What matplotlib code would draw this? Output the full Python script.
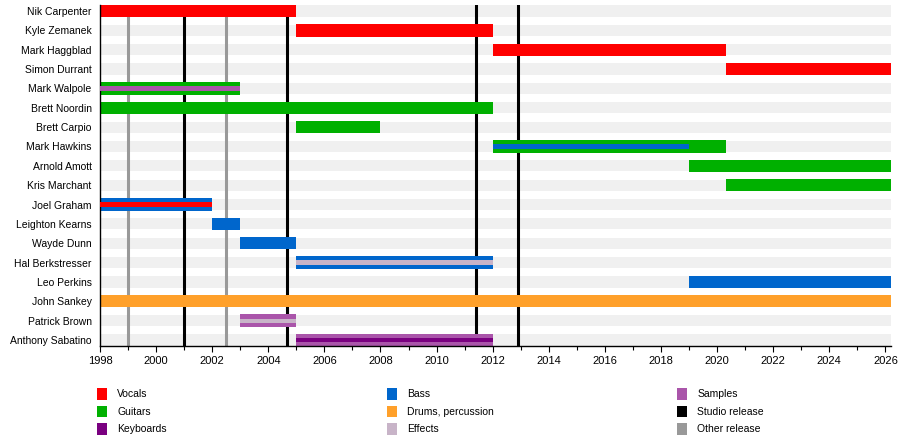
import matplotlib
matplotlib.use("Agg")
import matplotlib.pyplot as plt
from matplotlib.patches import Patch

plt.rcParams['font.family'] = ['Liberation Sans', 'DejaVu Sans']

END = 2026.2

members = ["Nik Carpenter", "Kyle Zemanek", "Mark Haggblad", "Simon Durrant",
           "Mark Walpole", "Brett Noordin", "Brett Carpio", "Mark Hawkins",
           "Arnold Amott", "Kris Marchant", "Joel Graham", "Leighton Kearns",
           "Wayde Dunn", "Hal Berkstresser", "Leo Perkins", "John Sankey",
           "Patrick Brown", "Anthony Sabatino"]

colors = {
    "Vocals": "#ff0000",
    "Guitars": "#00b000",
    "Keyboards": "#7a0080",
    "Bass": "#0066cc",
    "Drums, percussion": "#ffa02a",
    "Effects": "#c8b4c8",
    "Samples": "#aa55aa",
    "Studio release": "#000000",
    "Other release": "#999999",
}

# main bars: member, role, start, end
bars = [
    ("Nik Carpenter", "Vocals", 1998, 2005),
    ("Kyle Zemanek", "Vocals", 2005, 2012),
    ("Mark Haggblad", "Vocals", 2012, 2020.3),
    ("Simon Durrant", "Vocals", 2020.3, END),
    ("Mark Walpole", "Guitars", 1998, 2003),
    ("Brett Noordin", "Guitars", 1998, 2012),
    ("Brett Carpio", "Guitars", 2005, 2008),
    ("Mark Hawkins", "Guitars", 2012, 2020.3),
    ("Arnold Amott", "Guitars", 2019, END),
    ("Kris Marchant", "Guitars", 2020.3, END),
    ("Joel Graham", "Bass", 1998, 2002),
    ("Leighton Kearns", "Bass", 2002, 2003),
    ("Wayde Dunn", "Bass", 2003, 2005),
    ("Hal Berkstresser", "Bass", 2005, 2012),
    ("Leo Perkins", "Bass", 2019, END),
    ("John Sankey", "Drums, percussion", 1998, END),
    ("Patrick Brown", "Samples", 2003, 2005),
    ("Anthony Sabatino", "Samples", 2005, 2012),
]

# secondary roles drawn as thin inner stripes
stripes = [
    ("Mark Walpole", "Samples", 1998, 2003),
    ("Mark Hawkins", "Bass", 2012, 2019),
    ("Joel Graham", "Vocals", 1998, 2002),
    ("Hal Berkstresser", "Effects", 2005, 2012),
    ("Patrick Brown", "Effects", 2003, 2005),
    ("Anthony Sabatino", "Keyboards", 2005, 2012),
]

studio_releases = [2001.0, 2004.65, 2011.4, 2012.9]
other_releases = [1999.0, 2002.5]

fig = plt.figure(figsize=(9, 4.4), dpi=100)
ax = fig.add_axes([100 / 900, 1 - 346 / 440, 791 / 900, 341 / 440])

ypos = {m: i for i, m in enumerate(members)}

# background stripes
ax.barh(range(len(members)), END - 1998, left=1998, height=0.58,
        color="#f0f0f0", zorder=0)

for x in studio_releases:
    ax.axvline(x, color=colors["Studio release"], lw=2.2, zorder=1)
for x in other_releases:
    ax.axvline(x, color=colors["Other release"], lw=2.2, zorder=1)

for m, role, s, e in bars:
    ax.barh(ypos[m], e - s, left=s, height=0.64, color=colors[role], zorder=2)
for m, role, s, e in stripes:
    ax.barh(ypos[m], e - s, left=s, height=0.22, color=colors[role], zorder=3)

ax.set_xlim(1998, END)
ax.set_ylim(17.31, -0.31)
ax.set_yticks(range(len(members)))
ax.set_yticklabels(members, fontsize=7.5)
ax.tick_params(axis="y", length=0, pad=6)
ax.set_xticks(range(1998, 2027, 2))
ax.set_xticks(range(1998, 2027), minor=True)
ax.tick_params(axis="x", labelsize=8, length=4, width=0.8, direction="out")
ax.tick_params(axis="x", which="minor", length=3, width=0.8)
for side in ("top", "right"):
    ax.spines[side].set_visible(False)
ax.spines["left"].set_linewidth(1.0)
ax.spines["bottom"].set_linewidth(1.0)

legend_cols = [["Vocals", "Guitars", "Keyboards"],
               ["Bass", "Drums, percussion", "Effects"],
               ["Samples", "Studio release", "Other release"]]
col_x = [95 / 900, 385 / 900, 675 / 900]
for cx, col in zip(col_x, legend_cols):
    handles = [Patch(facecolor=colors[k], edgecolor="none", label=k) for k in col]
    fig.legend(handles=handles, loc="upper left", bbox_to_anchor=(cx, 1 - 386 / 440),
               frameon=False, fontsize=7.5, handlelength=0.95, handleheight=1.35,
               handletextpad=1.0, labelspacing=0.55, borderaxespad=0,
               borderpad=0.2)

fig.savefig("out.png", dpi=100)
